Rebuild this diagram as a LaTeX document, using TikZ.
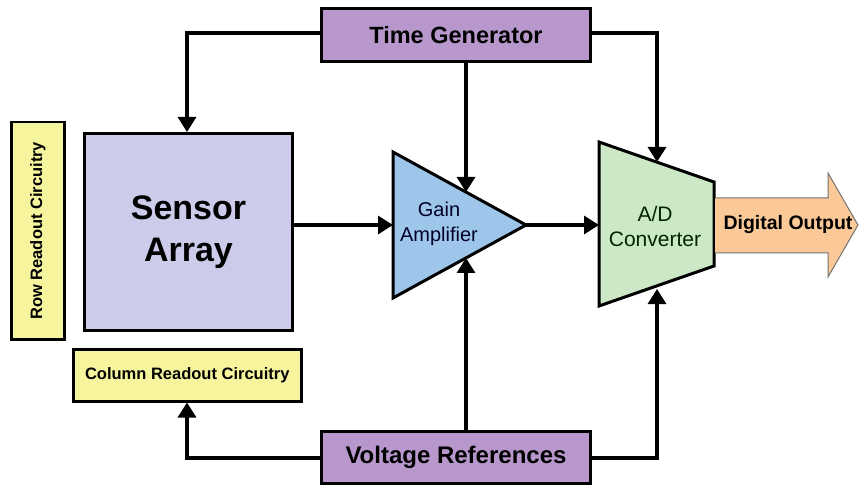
\documentclass[tikz,border=0pt]{standalone}
\usepackage{fontspec}
\setmainfont{Liberation Sans}
\usetikzlibrary{arrows.meta}
\definecolor{sensorc}{HTML}{CCCCEA}
\definecolor{purplec}{HTML}{B898CC}
\definecolor{yellowc}{HTML}{F6F49C}
\definecolor{ampc}{HTML}{9EC6EA}
\definecolor{adcc}{HTML}{CCE8C6}
\definecolor{outc}{HTML}{FBC898}
\tikzset{
  blk/.style={draw=black, line width=3pt, inner sep=0pt, anchor=north west, align=center, font=\bfseries},
  conn/.style={line width=3.2pt, -{Triangle[length=15pt,width=18pt]}},
  plain/.style={line width=3.2pt},
}
\begin{document}
\begin{tikzpicture}[x=1pt,y=-1pt]
\useasboundingbox[fill=white] (0,0) rectangle (859,486);
% blocks
\node[blk, fill=purplec, minimum width=269pt, minimum height=53pt, font=\bfseries\fontsize{23.5}{28}\selectfont] (tg) at (320,7) {Time Generator};
\node[blk, fill=purplec, minimum width=269pt, minimum height=52pt, font=\bfseries\fontsize{24}{28}\selectfont] (vr) at (320,430) {Voltage References};
\node[blk, fill=sensorc, minimum width=208pt, minimum height=197pt, font=\bfseries\fontsize{34}{42}\selectfont] (sa) at (83,132) {Sensor\\Array};
\node[blk, line width=2.5pt, fill=yellowc, minimum width=53pt, minimum height=217pt] (rr) at (10,121) {};
\node[font=\bfseries\fontsize{16.5}{20}\selectfont, rotate=90] (rrt) at (rr.center) {Row Readout Circuitry};
\node[blk, line width=2.5pt, fill=yellowc, minimum width=228pt, minimum height=52pt, font=\bfseries\fontsize{16.5}{20}\selectfont] (cr) at (72,348) {Column Readout Circuitry};
% amplifier
\coordinate (a1) at (393,152);
\coordinate (a2) at (526,225);
\coordinate (a3) at (393,298);
\draw[line width=3pt, fill=ampc, line join=miter] (a1) -- (a2) -- (a3) -- cycle;
\node[align=center, text=black!85!blue, font=\fontsize{20}{25}\selectfont] (amp) at (439,224) {Gain\\Amplifier};
\coordinate (ampin) at (393,225);
\coordinate (amptop) at (466,192);
\coordinate (ampbot) at (466,258);
% A/D
\coordinate (d1) at (599,142);
\coordinate (d2) at (714,182);
\coordinate (d3) at (714,266);
\coordinate (d4) at (599,306);
\draw[line width=3pt, fill=adcc, line join=miter] (d1) -- (d2) -- (d3) -- (d4) -- cycle;
\node[align=center, text=black!85!green, font=\fontsize{21}{25}\selectfont] (adc) at (655,226) {A/D\\Converter};
\coordinate (adin) at (599,225);
\coordinate (adtop) at (657,162);
\coordinate (adbot) at (657,289);
% digital output arrow
\draw[fill=outc, draw=black!55, line width=1pt] (715,198) -- (828,198) -- (828,173) -- (858,225) -- (828,277) -- (828,253) -- (715,253);
\node[font=\bfseries\fontsize{19.5}{24}\selectfont] (dout) at (788,225) {Digital Output};
% connectors
\draw[conn] (tg.west |- 0,33) -| (sa.north -| 187,0);
\draw[conn] (tg.south -| amptop) -- (amptop);
\draw[conn] (tg.east |- 0,33) -| (adtop);
\draw[conn] (sa.east |- ampin) -- (ampin);
\draw[conn] (a2) -- (adin);
\draw[conn] (vr.north -| ampbot) -- (ampbot);
\draw[conn] (vr.east |- 0,458) -| (adbot);
\draw[conn] (vr.west |- 0,458) -| (cr.south -| 187,0);
\end{tikzpicture}
\end{document}
